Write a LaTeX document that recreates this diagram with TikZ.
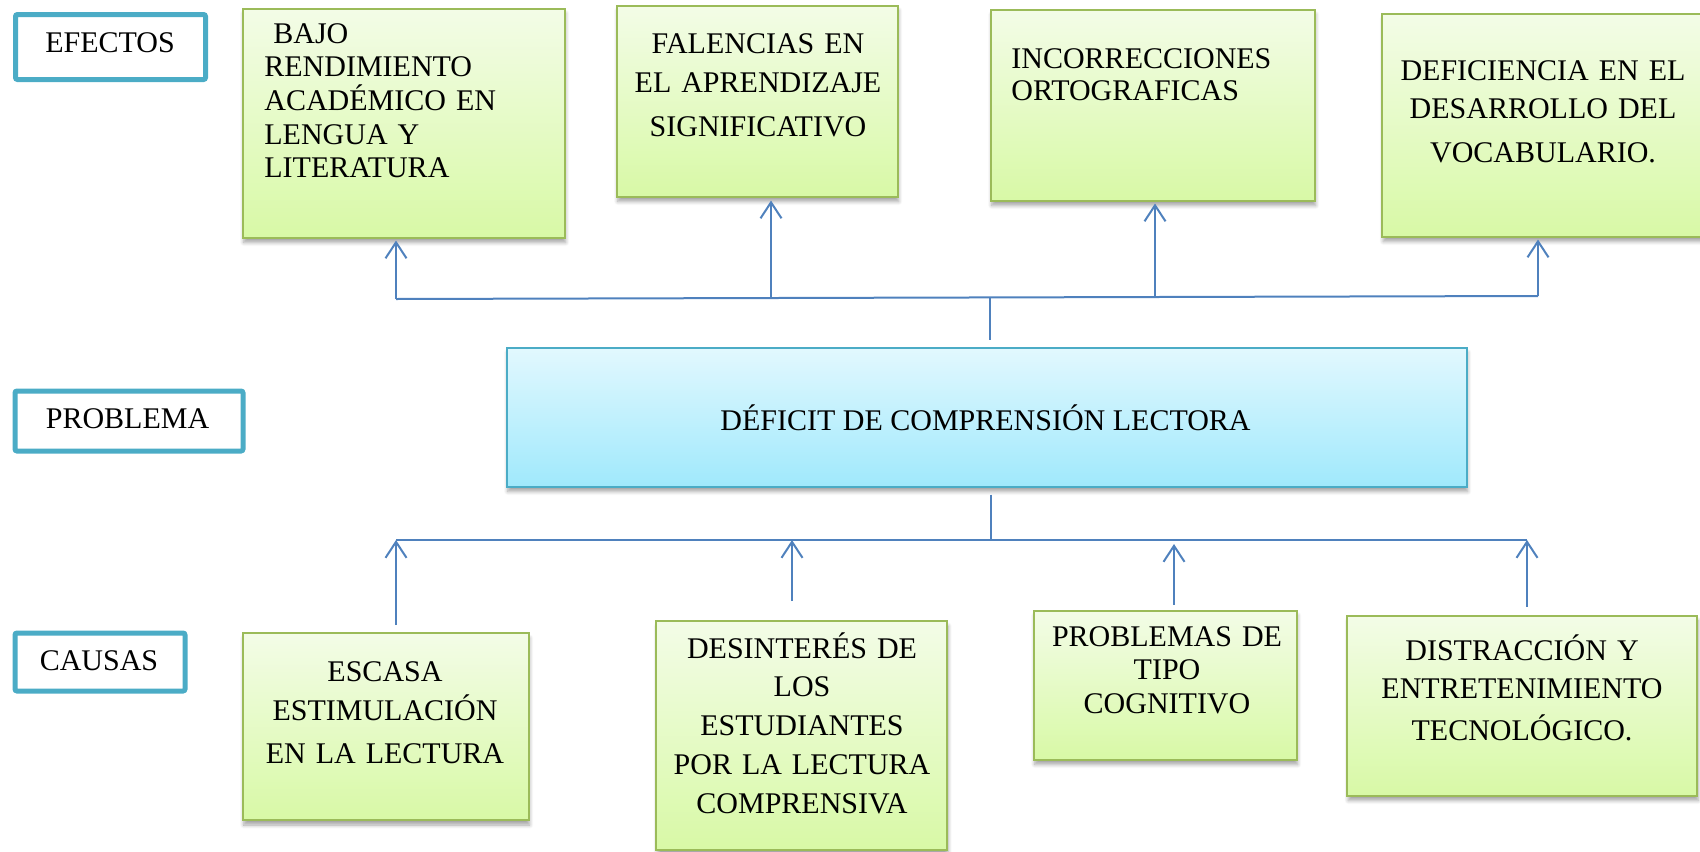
\documentclass[tikz,border=0pt]{standalone}
\usepackage{fontspec}
\setmainfont{Liberation Serif}
\usetikzlibrary{arrows.meta,calc,shadows.blur}
\definecolor{labBorder}{RGB}{75,172,198}
\definecolor{gBorder}{RGB}{155,187,89}
\definecolor{gTop}{RGB}{243,252,231}
\definecolor{gBot}{RGB}{216,249,166}
\definecolor{pTop}{RGB}{226,248,254}
\definecolor{pBot}{RGB}{160,233,252}
\definecolor{connC}{RGB}{79,129,189}
\begin{document}
\begin{tikzpicture}[x=0.5pt,y=-0.5pt,
  lab/.style={draw=labBorder,line width=2.5pt,fill=white,rounded corners=1pt,inner sep=0pt},
  shad/.style={blur shadow={shadow xshift=0.6pt,shadow yshift=-2.5pt,shadow blur steps=6,shadow opacity=35}},
  gbox/.style={shad,draw=gBorder,line width=1pt,top color=gTop,bottom color=gBot,inner sep=0pt},
  pbox/.style={shad,draw=labBorder,line width=1pt,top color=pTop,bottom color=pBot,inner sep=0pt},
  txt/.style={inner sep=0pt,font=\fontsize{15pt}{#1}\selectfont,text width=190pt},
  ctxt/.style={txt=#1,align=center,anchor=base},
  ltxt/.style={txt=#1,align=left,anchor=base west},
  stxt/.style={inner sep=0pt,font=\fontsize{15pt}{18pt}\selectfont,anchor=base},
  conn/.style={draw=connC,line width=1pt},
  arr/.style={conn,-{Straight Barb[length=8pt,width=10.5pt]}}]
\useasboundingbox (0,0) rectangle (1700,851);
\clip (0,0) rectangle (1700,851);

% label boxes
\node[lab,minimum width=95pt,minimum height=32.5pt] (lef) at (110.5,47) {};
\node[stxt] (lefT) at (110,52) {EFECTOS};
\node[lab,minimum width=114pt,minimum height=30pt] (lpr) at (129,421) {};
\node[stxt] (lprT) at (127.5,428) {PROBLEMA};
\node[lab,minimum width=85pt,minimum height=29pt] (lca) at (100,662) {};
\node[stxt] (lcaT) at (99,670) {CAUSAS};

% effects
\node[gbox,minimum width=161pt,minimum height=114.5pt] (e1) at (403.5,123) {};
\node[ltxt=16.85pt] (e1T) at (264,43) {\hspace*{4.5pt}BAJO\\RENDIMIENTO\\ACADÉMICO EN\\LENGUA Y\\LITERATURA};
\node[gbox,minimum width=140.5pt,minimum height=95.5pt] (e2) at (757,101) {};
\node[ctxt=19.5pt] (e2T) at (758,53) {FALENCIAS EN\\EL APRENDIZAJE\\[2.5pt]SIGNIFICATIVO};
\node[gbox,minimum width=162pt,minimum height=95.5pt] (e3) at (1152.5,105) {};
\node[ltxt=16pt] (e3T) at (1011,68) {INCORRECCIONES\\ORTOGRAFICAS};
\node[gbox,minimum width=160pt,minimum height=111.5pt] (e4) at (1542,125) {};
\node[ctxt=19pt] (e4T) at (1543,80) {DEFICIENCIA EN EL\\DESARROLLO DEL\\[3pt]VOCABULARIO.};

% problem
\node[pbox,minimum width=480pt,minimum height=69.5pt] (prob) at (986.5,417) {};
\node[stxt] (probT) at (985.5,430) {DÉFICIT DE COMPRENSIÓN LECTORA};

% causes
\node[gbox,minimum width=143pt,minimum height=93.5pt] (c1) at (385.5,726.5) {};
\node[ctxt=19.5pt] (c1T) at (385,681) {ESCASA\\ESTIMULACIÓN\\[2pt]EN LA LECTURA};
\node[gbox,minimum width=145.5pt,minimum height=114.5pt] (c2) at (801.5,735.5) {};
\node[ctxt=19.4pt] (c2T) at (802,658) {DESINTERÉS DE\\LOS\\ESTUDIANTES\\POR LA LECTURA\\COMPRENSIVA};
\node[gbox,minimum width=131.5pt,minimum height=74.5pt] (c3) at (1165,685) {};
\node[ctxt=16.75pt] (c3T) at (1167,646) {PROBLEMAS DE\\TIPO\\COGNITIVO};
\node[gbox,minimum width=175pt,minimum height=90pt] (c4) at (1522,705.5) {};
\node[ctxt=19pt] (c4T) at (1522,660) {DISTRACCIÓN Y\\ENTRETENIMIENTO\\[2pt]TECNOLÓGICO.};

% junction coordinates
\coordinate (t1) at (396,299);
\coordinate (t2) at (771,298);
\coordinate (t3) at (1155,297);
\coordinate (t4) at (1538,296);
\coordinate (tc) at (990,297.3);
\coordinate (b1) at (396,540);
\coordinate (b2) at (792,540);
\coordinate (b3) at (1174,540);
\coordinate (b4) at (1527,540);
\coordinate (bc) at (991,540);

% effects connectors
\draw[conn] (t1) -- (t4);
\draw[arr] (t1) -- ($(t1 |- e1.south)+(0,2)$);
\draw[arr] (t2) -- ($(t2 |- e2.south)+(0,3)$);
\draw[arr] (t3) -- ($(t3 |- e3.south)+(0,2)$);
\draw[arr] (t4) -- ($(t4 |- e4.south)+(0,2)$);
\draw[conn] ($(tc |- prob.north)+(0,-7)$) -- (tc);

% causes connectors
\draw[conn] ($(bc |- prob.south)+(0,7)$) -- (bc);
\draw[conn] (b1) -- (b4);
\draw[arr] ($(b1 |- c1.north)+(0,-7)$) -- (b1);
\draw[arr] ($(b2 |- c2.north)+(0,-19)$) -- (b2);
\draw[arr] ($(b3 |- c3.north)+(0,-5)$) -- ($(b3)+(0,4)$);
\draw[arr] ($(b4 |- c4.north)+(0,-8)$) -- (b4);
\end{tikzpicture}
\end{document}
